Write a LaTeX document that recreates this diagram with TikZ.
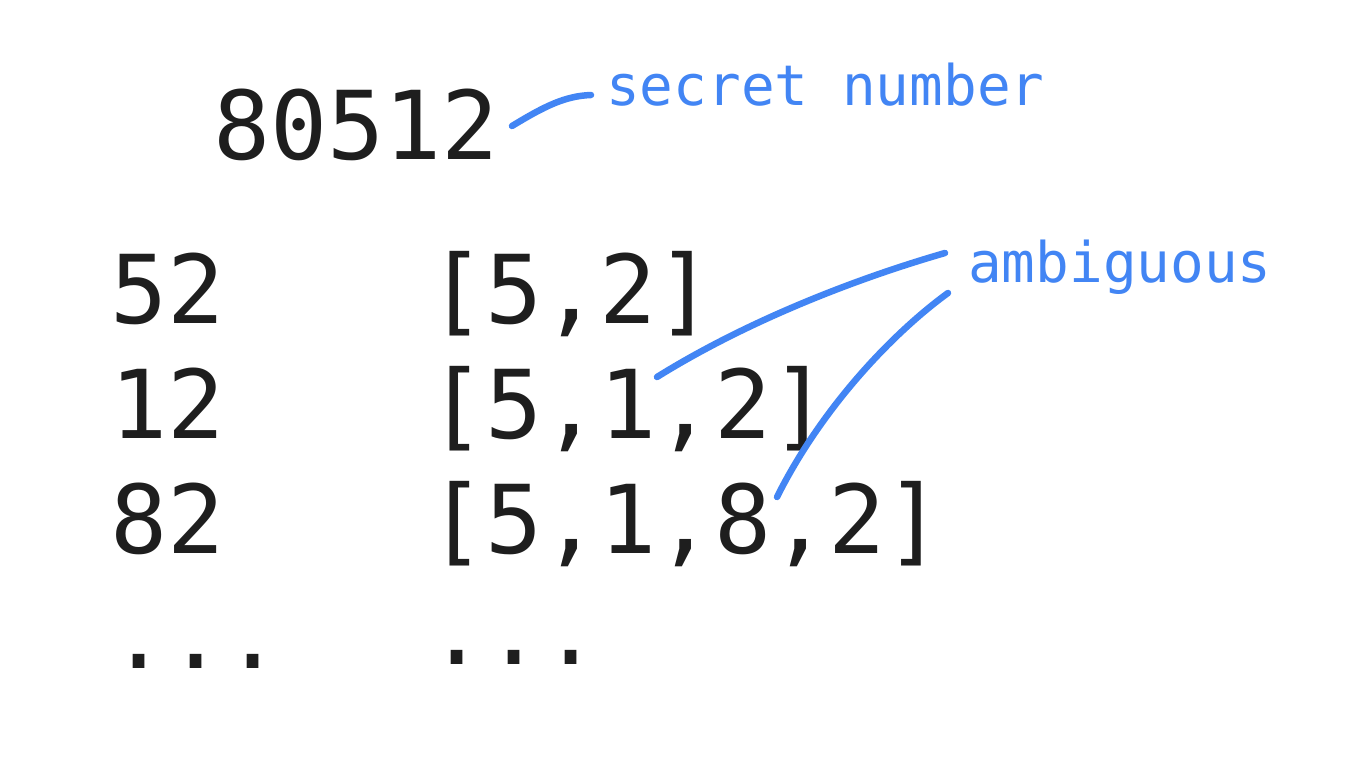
\documentclass[tikz,border=0pt]{standalone}
\usepackage{fontspec}
\setmonofont{DejaVu Sans Mono}
\newfontfamily\bigmono{DejaVu Sans Mono}
\newfontfamily\labmono{DejaVu Sans Mono}
\definecolor{gblue}{HTML}{4285F4}
\definecolor{ink}{HTML}{1E1E1E}
\begin{document}
\begin{tikzpicture}[x=1pt,y=-1pt,
  num/.style={anchor=base west,inner sep=0pt,text=ink,font=\bigmono\fontsize{95}{95}\selectfont},
  lab/.style={anchor=base west,inner sep=0pt,text=gblue,font=\labmono\fontsize{56}{56}\selectfont},
  callout/.style={draw=gblue,line width=6.5pt,line cap=round}]
\useasboundingbox[fill=white] (0,0) rectangle (1368,770);
% secret number
\node[num] (secret) at (213,160) {80512};
\node[lab] (seclab) at (606,106) {secret number};
% column 1
\node[num] (a1) at (110,323) {52};
\node[num] (a2) at (110,438) {12};
\node[num] (a3) at (110,553) {82};
\node[num] (a4) at (110,668) {...};
% column 2
\node[num] (b1) at (428,323) {[5,2]};
\node[num] (b2) at (428,438) {[5,1,2]};
\node[num] (b3) at (428,553) {[5,1,8,2]};
\node[num] (b4) at (428,664) {...};
% label
\node[lab] (amb) at (968,282) {ambiguous};
% callout end points
\coordinate (s0) at (512,126);
\coordinate (s1) at (591,95);
\coordinate (p0) at (657,377);
\coordinate (p1) at (945,253);
\coordinate (q0) at (777,497);
\coordinate (q1) at (948,293);
\draw[callout] (s0) .. controls (545,106) and (565,96) .. (s1);
\draw[callout] (p0) .. controls (747,321) and (855,279) .. (p1);
\draw[callout] (q0) .. controls (822,407) and (893,333) .. (q1);
\end{tikzpicture}
\end{document}
